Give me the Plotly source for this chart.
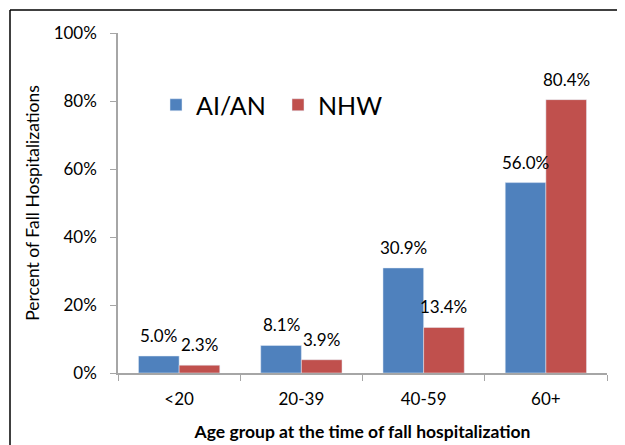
import plotly.graph_objects as go

categories = ["<20", "20-39", "40-59", "60+"]
aian = [5.0, 8.1, 30.9, 56.0]
nhw = [2.3, 3.9, 13.4, 80.4]
y_ticks = [0, 20, 40, 60, 80, 100]
y_tick_labels = ["0%", "20%", "40%", "60%", "80%", "100%"]

FONT = "Lato, 'Open Sans', sans-serif"
# page has an 8px body margin; size the figure so it fits the 625x445 window
W, H = 617, 437
L, R, T, B = 110, 18, 25, 72
pw = W - L - R
ph = H - T - B
BARGAP = 0.335
bar_px = pw / len(categories) * (1 - BARGAP) / 2

fig = go.Figure()
fig.add_bar(x=categories, y=aian, name="AI/AN", marker_color="#4F81BD")
fig.add_bar(x=categories, y=nhw, name="NHW", marker_color="#C0504D")

for series, sign in ((aian, -1), (nhw, 1)):
    for c, v in zip(categories, series):
        fig.add_annotation(x=c, y=v, xref="x", yref="y", text=f"{v:.1f}%",
                           showarrow=False, xanchor="center", yanchor="bottom",
                           xshift=sign * bar_px / 2, yshift=8,
                           font=dict(size=17, color="#000"))

bx0 = (2 - L) / pw
by1 = 1 + (T - 2) / ph
fig.add_shape(type="line", xref="paper", yref="paper",
              x0=bx0, x1=(W - L) / pw, y0=by1, y1=by1,
              line=dict(color="#000", width=1.5), layer="below")
fig.add_shape(type="line", xref="paper", yref="paper",
              x0=bx0, x1=bx0, y0=-(B) / ph, y1=by1,
              line=dict(color="#000", width=1.5), layer="below")

fig.update_layout(
    width=W, height=H,
    margin=dict(l=L, r=R, t=T, b=B, autoexpand=False),
    paper_bgcolor="white", plot_bgcolor="white",
    font=dict(family=FONT, color="#000"),
    barmode="group", bargap=BARGAP, bargroupgap=0,
    showlegend=True,
    legend=dict(orientation="h", x=(148 - L) / pw, y=1 - (97 - T) / ph,
                xanchor="left", yanchor="middle",
                font=dict(size=25, color="#000"), itemwidth=30,
                bgcolor="rgba(0,0,0,0)", traceorder="normal", entrywidth=77),
    xaxis=dict(showline=True, linecolor="#A6A6A6", linewidth=1.5,
               ticks="outside", tickson="boundaries", ticklen=6, tickcolor="#A6A6A6",
               tickfont=dict(size=17), showgrid=False, automargin=False,
               ticklabelstandoff=10,
               title=dict(text="<b>Age group at the time of fall hospitalization</b>",
                          font=dict(size=17.5), standoff=18)),
    yaxis=dict(range=[0, 100], tickvals=y_ticks, ticktext=y_tick_labels,
               showline=True, linecolor="#A6A6A6", linewidth=1.5,
               ticks="outside", ticklen=6, tickcolor="#A6A6A6",
               tickfont=dict(size=17), showgrid=False, zeroline=False,
               automargin=False, ticklabelstandoff=10,
               title=dict(text="Percent of Fall Hospitalizations", font=dict(size=17.5), standoff=10)),
)

fig.write_html("out.html")
